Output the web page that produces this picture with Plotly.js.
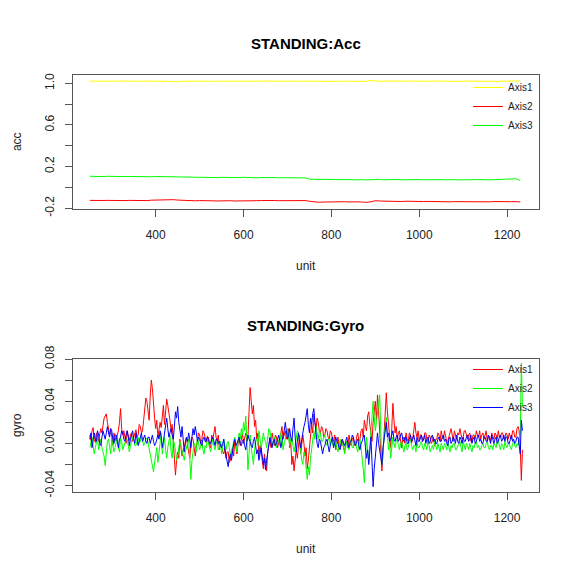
<!DOCTYPE html>
<html>
<head>
<meta charset="utf-8">
<script src="https://cdn.plot.ly/plotly-3.0.1.min.js"></script>
<style>html,body{margin:0;padding:0;background:#fff;}#chart{width:561px;height:569px;}</style>
</head>
<body>
<div id="chart"></div>
<script>
// ---- data ----
const accStart = 250, accStep = 10;   // unit index of first sample / sampling step
const gyroStart = 250, gyroStep = 2.5;

const accAxis1 = [1.021,1.020,1.022,1.021,1.019,1.022,1.020,1.021,1.023,1.020,
1.021,1.019,1.022,1.020,1.021,1.022,1.020,1.021,1.019,1.022,
1.014,1.020,1.021,1.023,1.020,1.022,1.021,1.019,1.022,1.020,
1.021,1.020,1.022,1.019,1.021,1.020,1.022,1.021,1.019,1.021,
1.022,1.020,1.021,1.023,1.020,1.021,1.019,1.022,1.020,1.021,
1.020,1.022,1.018,1.021,1.020,1.022,1.021,1.019,1.021,1.020,
1.022,1.020,1.021,1.019,1.027,1.021,1.020,1.022,1.021,1.020,
1.021,1.023,1.020,1.021,1.022,1.020,1.021,1.019,1.022,1.021,
1.020,1.022,1.021,1.020,1.019,1.022,1.021,1.020,1.022,1.021,
1.020,1.022,1.021,1.019,1.021,1.022,1.020,1.021,1.022];

const accAxis2 = [-0.126,-0.128,-0.125,-0.127,-0.126,-0.128,-0.127,-0.125,-0.128,-0.126,
-0.127,-0.129,-0.126,-0.128,-0.124,-0.122,-0.120,-0.118,-0.121,-0.119,
-0.123,-0.126,-0.128,-0.127,-0.130,-0.128,-0.131,-0.129,-0.130,-0.132,
-0.130,-0.131,-0.129,-0.132,-0.130,-0.128,-0.130,-0.127,-0.129,-0.128,
-0.126,-0.128,-0.127,-0.129,-0.128,-0.130,-0.129,-0.131,-0.130,-0.128,
-0.134,-0.140,-0.144,-0.142,-0.140,-0.141,-0.138,-0.140,-0.139,-0.141,
-0.138,-0.140,-0.142,-0.145,-0.140,-0.129,-0.132,-0.134,-0.133,-0.136,
-0.135,-0.137,-0.134,-0.136,-0.138,-0.135,-0.137,-0.136,-0.138,-0.137,
-0.139,-0.137,-0.140,-0.138,-0.139,-0.137,-0.140,-0.138,-0.139,-0.137,
-0.138,-0.140,-0.137,-0.139,-0.138,-0.140,-0.139,-0.138,-0.141];

const accAxis3 = [0.106,0.104,0.105,0.103,0.106,0.104,0.102,0.105,0.103,0.104,
0.102,0.105,0.103,0.097,0.101,0.104,0.103,0.106,0.108,0.104,
0.101,0.099,0.102,0.097,0.100,0.098,0.094,0.097,0.095,0.093,
0.096,0.094,0.092,0.095,0.093,0.096,0.092,0.094,0.091,0.093,
0.095,0.092,0.094,0.091,0.093,0.095,0.092,0.090,0.093,0.091,
0.078,0.076,0.074,0.075,0.073,0.075,0.074,0.076,0.073,0.074,
0.072,0.075,0.073,0.071,0.074,0.080,0.076,0.072,0.074,0.073,
0.075,0.072,0.074,0.076,0.073,0.075,0.072,0.074,0.076,0.073,
0.074,0.072,0.075,0.073,0.071,0.074,0.072,0.073,0.075,0.072,
0.074,0.072,0.073,0.075,0.072,0.074,0.076,0.082,0.066];

const gyroAxis1 = [0.008,0.003,0.012,0.015,0.004,0.001,0.010,0.006,0.002,0.009,0.014,0.010,0.018,0.024,0.026,0.028,0.020,0.012,0.008,0.014,
0.004,-0.002,0.010,0.005,0.002,0.008,0.012,0.020,0.033,0.014,0.008,0.012,0.006,0.000,0.012,0.007,0.003,0.008,0.010,0.002,
0.005,0.009,0.013,0.006,0.008,0.018,0.016,0.010,0.012,0.022,0.030,0.043,0.040,0.028,0.022,0.045,0.060,0.052,0.035,0.024,
0.014,0.022,0.006,0.012,0.020,0.015,0.028,0.036,0.018,0.030,0.042,0.036,0.030,0.022,0.012,0.018,0.002,-0.010,-0.030,-0.016,
-0.008,-0.014,0.004,-0.004,-0.012,-0.006,-0.004,0.002,0.006,-0.002,-0.010,-0.014,-0.002,0.006,0.004,-0.006,-0.012,-0.004,0.002,0.010,
0.008,0.000,0.004,0.012,0.010,0.004,0.001,0.007,0.006,-0.002,-0.004,0.008,0.004,0.010,0.016,0.006,0.002,0.008,-0.006,0.000,
-0.002,-0.008,-0.010,-0.004,-0.014,-0.008,-0.008,-0.018,-0.016,-0.010,-0.004,-0.012,0.002,-0.004,-0.010,0.000,0.004,-0.002,0.006,0.010,
0.000,0.006,0.010,0.002,0.006,0.030,0.053,0.040,0.028,0.036,0.016,0.022,0.004,0.010,-0.012,-0.002,-0.006,-0.016,-0.024,-0.010,
-0.018,-0.026,-0.008,-0.002,0.004,-0.004,0.010,0.004,-0.002,0.008,0.006,-0.004,0.000,0.006,0.010,0.016,0.004,0.008,0.012,0.004,
0.008,0.014,-0.004,0.002,-0.020,-0.012,-0.026,-0.018,-0.006,-0.014,0.002,0.008,-0.010,-0.002,0.008,0.000,-0.012,-0.004,-0.024,-0.016,
-0.004,0.006,0.018,0.010,0.028,0.020,0.014,0.024,0.020,0.012,0.010,0.016,0.014,0.006,0.008,0.014,0.012,0.006,0.004,0.012,
0.010,0.004,0.002,0.008,-0.006,0.000,0.006,-0.002,-0.004,0.002,0.004,-0.004,-0.008,0.000,0.002,-0.004,0.008,0.002,-0.002,0.004,
0.006,-0.002,0.000,0.006,0.010,0.002,0.004,0.012,0.014,0.006,0.022,0.016,0.012,0.026,0.030,0.018,0.008,0.002,0.020,0.032,
0.040,0.022,0.046,0.030,0.010,-0.008,-0.026,-0.010,0.014,0.032,0.048,0.030,0.020,0.008,-0.004,0.014,0.038,0.022,0.010,0.016,
0.004,0.010,0.012,0.002,-0.004,0.004,0.006,0.000,0.010,0.004,0.002,0.010,0.008,0.000,0.004,0.012,0.020,0.010,0.006,0.012,
0.002,0.008,0.008,0.002,0.004,0.010,0.010,0.004,0.000,0.008,0.006,0.000,0.002,0.006,-0.002,0.004,0.004,0.010,0.008,0.002,
0.012,0.006,0.004,0.012,0.008,0.002,0.002,0.008,0.010,0.014,0.006,0.002,0.012,0.006,0.004,0.010,0.008,0.014,0.010,0.004,
0.006,0.012,0.012,0.006,0.004,0.008,0.010,0.002,0.002,0.008,0.008,0.004,0.012,0.008,0.006,0.012,0.004,0.008,0.010,0.004,
0.008,0.012,0.002,0.008,0.006,0.002,0.010,0.006,0.004,0.010,0.008,0.004,0.012,0.006,0.006,0.010,0.010,0.004,0.004,0.010,
0.008,0.004,0.010,0.006,0.004,0.012,0.012,0.006,0.006,0.014,0.016,0.012,-0.004,-0.035,-0.006];

const gyroAxis2 = [-0.004,0.002,0.006,-0.002,-0.010,-0.004,0.002,0.006,-0.006,-0.002,0.004,-0.004,-0.008,-0.012,-0.021,-0.006,0.002,0.004,-0.006,-0.010,
0.004,-0.002,-0.008,-0.004,0.002,0.006,-0.004,-0.008,0.006,0.002,-0.006,-0.002,0.000,0.004,0.004,-0.004,-0.008,-0.002,0.002,0.006,
0.004,-0.002,-0.002,0.004,0.006,0.000,0.002,0.006,0.004,-0.002,0.000,0.004,0.005,0.001,-0.004,-0.010,-0.016,-0.022,-0.027,-0.018,
-0.012,-0.004,-0.018,-0.008,0.004,0.010,-0.010,-0.002,0.006,-0.006,-0.014,-0.004,0.002,0.008,-0.008,-0.014,0.004,0.000,-0.006,-0.016,
-0.012,-0.004,0.002,-0.002,-0.006,-0.010,-0.016,-0.008,-0.004,0.002,0.004,-0.014,-0.034,-0.016,-0.008,0.000,-0.002,-0.008,0.006,0.000,
-0.006,-0.002,0.002,-0.006,-0.010,-0.002,-0.004,0.004,0.000,-0.006,-0.008,-0.002,0.004,-0.002,-0.006,0.000,0.002,-0.006,-0.004,0.002,
-0.010,-0.004,0.004,-0.002,-0.006,0.000,0.002,-0.004,-0.012,-0.006,-0.004,0.002,0.006,0.000,-0.008,0.002,0.010,0.004,0.014,0.008,
0.020,0.012,0.026,0.004,-0.025,-0.010,0.008,-0.004,-0.014,-0.020,-0.006,0.002,0.004,-0.002,0.012,0.006,-0.004,0.002,0.010,0.004,
0.002,-0.004,0.008,0.014,0.012,0.004,-0.002,0.002,0.006,-0.002,-0.004,0.004,0.002,-0.002,0.010,0.004,-0.006,0.000,0.004,0.010,
0.014,0.006,-0.002,0.004,0.006,-0.002,-0.008,-0.002,0.004,0.012,0.010,0.000,-0.010,-0.016,-0.020,-0.008,-0.012,-0.024,-0.034,-0.022,
-0.030,-0.014,-0.004,0.006,0.012,0.004,0.016,0.010,0.004,0.012,0.010,0.002,0.002,0.006,0.008,0.000,-0.002,0.004,0.004,-0.002,
0.006,0.000,-0.004,0.002,0.002,-0.004,-0.008,-0.002,0.004,-0.002,-0.002,0.002,-0.010,-0.004,0.002,-0.002,-0.006,0.000,0.004,-0.004,
-0.004,0.002,0.002,-0.004,-0.008,-0.002,0.004,-0.004,-0.012,-0.024,-0.037,-0.012,0.006,-0.006,-0.018,-0.004,0.010,0.026,0.040,0.024,
0.012,0.020,0.030,0.038,0.046,0.010,-0.020,-0.006,0.008,0.016,0.025,0.006,-0.006,0.002,-0.014,-0.004,0.006,0.000,-0.004,0.002,
0.004,-0.002,-0.006,0.000,0.002,-0.004,-0.008,-0.002,0.000,-0.006,-0.004,0.002,0.004,-0.002,-0.006,-0.002,-0.002,-0.008,0.002,-0.004,
-0.004,0.000,0.002,-0.004,-0.006,0.000,-0.002,-0.006,0.004,-0.002,-0.008,-0.004,-0.002,-0.006,0.002,-0.002,-0.006,0.000,-0.004,-0.008,
0.000,-0.004,-0.006,0.000,-0.002,-0.006,0.002,-0.004,-0.008,-0.002,-0.004,0.000,0.000,-0.006,-0.006,-0.002,-0.002,0.002,-0.004,-0.008,
0.002,-0.002,-0.006,0.000,-0.002,-0.006,0.000,-0.004,-0.008,-0.002,-0.004,0.000,0.002,-0.004,-0.002,-0.006,-0.006,-0.002,0.000,-0.004,
-0.004,0.000,0.002,-0.004,-0.006,-0.002,-0.002,-0.006,0.000,-0.002,-0.004,0.002,0.004,-0.002,-0.006,0.000,-0.002,-0.006,0.002,-0.002,
-0.004,0.000,0.000,-0.004,-0.006,0.000,0.002,-0.002,-0.004,0.000,-0.002,0.004,0.010,0.076,0.035];

const gyroAxis3 = [0.004,0.010,-0.004,0.002,0.010,0.004,0.002,0.012,0.008,0.000,-0.002,0.006,0.012,0.008,0.004,0.010,0.016,0.010,0.006,0.014,
0.012,0.004,0.000,0.008,0.008,0.002,-0.004,0.004,0.006,0.012,0.010,0.004,0.002,0.008,0.012,0.006,-0.002,0.004,0.008,0.012,
0.004,0.000,0.010,0.004,-0.002,0.002,0.006,0.010,0.002,0.006,0.008,0.002,0.000,0.006,0.006,0.000,0.004,0.008,0.002,-0.002,
0.000,0.004,0.008,0.004,0.012,0.006,-0.004,0.002,0.010,0.018,0.024,0.014,0.006,0.010,0.014,0.008,0.004,0.016,0.030,0.024,
0.035,0.020,0.012,0.006,0.016,0.004,-0.008,0.000,0.006,0.002,0.010,0.004,-0.004,0.006,0.014,0.008,0.016,0.010,0.002,0.006,
0.004,0.000,-0.002,0.004,0.006,0.002,0.002,0.006,0.004,0.000,0.000,0.004,0.006,0.002,-0.002,0.004,0.004,0.000,0.002,-0.002,
-0.004,0.000,0.004,-0.006,-0.012,-0.018,-0.022,-0.014,-0.010,-0.016,-0.004,0.000,0.004,-0.002,0.000,0.004,0.006,0.000,-0.002,0.002,
0.004,-0.002,-0.006,0.002,0.008,0.004,0.002,-0.002,-0.004,0.002,0.006,-0.002,-0.010,-0.006,-0.016,-0.010,-0.004,-0.012,-0.020,-0.014,
-0.025,-0.016,-0.008,0.000,0.006,0.000,-0.004,0.002,0.004,-0.002,0.000,0.004,0.008,0.002,-0.004,0.002,0.006,0.012,0.020,0.010,
0.004,0.008,0.014,0.006,0.002,0.014,0.024,0.006,-0.008,0.002,0.010,0.002,-0.004,0.004,0.012,0.016,0.020,0.026,0.033,0.018,
0.010,0.024,0.018,0.028,0.033,0.020,0.006,0.000,-0.004,0.004,0.002,-0.004,-0.010,-0.004,-0.002,0.002,0.004,-0.002,-0.008,-0.002,
0.002,0.006,-0.004,0.000,0.006,0.002,0.000,-0.004,-0.006,0.000,0.004,0.000,-0.002,0.002,0.006,0.000,-0.004,0.002,0.002,0.008,
0.006,0.000,-0.002,0.002,0.004,-0.002,-0.006,0.000,0.002,0.006,0.008,-0.004,-0.014,-0.006,-0.020,-0.008,0.006,-0.018,-0.041,-0.024,
-0.010,0.002,0.010,0.000,-0.006,-0.014,-0.020,-0.004,0.006,0.014,0.020,0.006,0.010,0.002,0.004,0.008,0.012,0.004,0.002,0.006,
0.008,0.002,0.004,0.008,0.010,0.004,0.002,0.006,0.006,0.000,0.000,0.004,0.008,0.002,0.004,0.008,0.002,-0.002,0.006,0.002,
0.002,0.006,0.008,0.002,0.004,0.008,0.000,0.004,0.006,0.000,0.002,0.006,0.008,0.002,0.004,0.000,0.000,0.004,0.006,0.002,
0.002,0.006,0.008,0.002,0.004,0.000,-0.002,0.004,0.006,0.000,0.002,0.006,0.004,0.000,0.008,0.002,0.000,0.006,0.004,0.000,
0.006,0.002,0.002,0.006,0.008,0.002,0.004,0.008,0.000,0.004,0.006,0.000,0.002,0.006,0.008,0.002,0.004,0.000,0.000,0.006,
0.006,0.002,0.002,0.008,0.004,0.000,0.008,0.004,0.000,0.004,0.006,0.000,0.002,0.006,0.008,0.002,0.004,0.008,0.002,0.006,
0.006,0.000,0.000,0.004,0.008,0.002,0.004,0.000,0.002,0.006,0.006,-0.002,-0.010,0.022,0.012];

const seriesNames = ['Axis1','Axis2','Axis3'];
const accColors = ['#FFFF00','#FF0000','#00FF00'];
const gyroColors = ['#FF0000','#00FF00','#0000FF'];
const xTicks = [400,600,800,1000,1200];
const accTickVals = [-0.2,0,0.2,0.4,0.6,0.8,1.0];
const accTickText = ['-0.2','','0.2','','0.6','','1.0'];
const gyroTickVals = [-0.04,-0.02,0,0.02,0.04,0.06,0.08];
const gyroTickText = ['-0.04','','0.00','','0.04','','0.08'];

// ---- build ----
const accUnit = accAxis1.map((_, i) => accStart + accStep * i);
const gyroUnit = gyroAxis1.map((_, i) => gyroStart + gyroStep * i);

const traces = [];
[accAxis1, accAxis2, accAxis3].forEach((ys, k) => {
  traces.push({x: accUnit, y: ys, type: 'scatter', mode: 'lines', name: seriesNames[k],
    line: {color: accColors[k], width: 1}, xaxis: 'x', yaxis: 'y', legend: 'legend'});
});
[gyroAxis1, gyroAxis2, gyroAxis3].forEach((ys, k) => {
  traces.push({x: gyroUnit, y: ys, type: 'scatter', mode: 'lines', name: seriesNames[k],
    line: {color: gyroColors[k], width: 1}, xaxis: 'x2', yaxis: 'y2', legend: 'legend2'});
});

const W = 561, H = 569;
const fontFam = '"Liberation Sans", Arial, sans-serif';
const axisCommon = {
  showline: true, mirror: true, linecolor: '#555', linewidth: 1,
  ticks: 'outside', ticklen: 7, tickcolor: '#555', tickwidth: 1,
  showgrid: false, zeroline: false,
  tickfont: {family: fontFam, size: 12, color: '#222'},
  title: {font: {family: fontFam, size: 12, color: '#222'}}
};
const xDom = [72.7 / W, 538.7 / W];
function yDom(top, bot) { return [1 - bot / H, 1 - top / H]; }

const layout = {
  width: W, height: H,
  margin: {l: 0, r: 0, t: 0, b: 0},
  paper_bgcolor: '#fff', plot_bgcolor: '#fff',
  font: {family: fontFam, color: '#222'},
  xaxis: Object.assign({}, axisCommon, {domain: xDom, anchor: 'y', range: [211, 1272],
    tickvals: xTicks, ticklabelstandoff: 8,
    title: {text: 'unit', font: axisCommon.title.font, standoff: 20}}),
  yaxis: Object.assign({}, axisCommon, {domain: yDom(74.7, 208.7), anchor: 'x', range: [-0.206, 1.083],
    tickvals: accTickVals, ticktext: accTickText, tickangle: -90, ticklabelstandoff: 6,
    title: {text: 'acc', font: axisCommon.title.font, standoff: 18}}),
  xaxis2: Object.assign({}, axisCommon, {domain: xDom, anchor: 'y2', range: [211, 1272],
    tickvals: xTicks, ticklabelstandoff: 8,
    title: {text: 'unit', font: axisCommon.title.font, standoff: 20}}),
  yaxis2: Object.assign({}, axisCommon, {domain: yDom(358.7, 492), anchor: 'x2', range: [-0.046, 0.0803],
    tickvals: gyroTickVals, ticktext: gyroTickText, tickangle: -90, ticklabelstandoff: 6,
    title: {text: 'gyro', font: axisCommon.title.font, standoff: 18}}),
  legend: {x: 538 / W, xanchor: 'right', y: 1 - 73 / H, yanchor: 'top', bgcolor: 'rgba(0,0,0,0)',
    font: {family: fontFam, size: 10, color: '#222'}, itemwidth: 30, tracegroupgap: 0},
  legend2: {x: 538 / W, xanchor: 'right', y: 1 - 355 / H, yanchor: 'top', bgcolor: 'rgba(0,0,0,0)',
    font: {family: fontFam, size: 10, color: '#222'}, itemwidth: 30, tracegroupgap: 0},
  annotations: [
    {text: '<b>STANDING:Acc</b>', xref: 'paper', yref: 'paper', x: 305.7 / W, y: 1 - 43 / H,
      xanchor: 'center', yanchor: 'middle', showarrow: false, font: {family: fontFam, size: 15, color: '#000'}},
    {text: '<b>STANDING:Gyro</b>', xref: 'paper', yref: 'paper', x: 305.7 / W, y: 1 - 325 / H,
      xanchor: 'center', yanchor: 'middle', showarrow: false, font: {family: fontFam, size: 15, color: '#000'}}
  ],
  showlegend: true
};

Plotly.newPlot('chart', traces, layout, {staticPlot: true, displayModeBar: false});
</script>
</body>
</html>
